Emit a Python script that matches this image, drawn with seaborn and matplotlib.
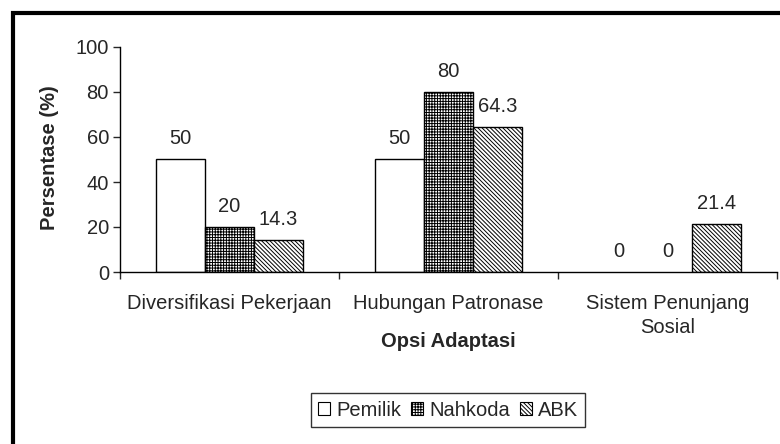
import numpy as np
import pandas as pd
import matplotlib.pyplot as plt
import matplotlib.patches as mpatches
import seaborn as sns

# ── Data ─────────────────────────────────────────────────────────────────────
OPSI = ['Diversifikasi Pekerjaan', 'Hubungan Patronase', 'Sistem Penunjang\nSosial']
KELOMPOK = ['Pemilik', 'Nahkoda', 'ABK']
PEMILIK = [50, 50, 0]
NAHKODA = [20, 80, 0]
ABK = [14.3, 64.3, 21.4]
LABELS = {
    'Pemilik': ['50', '50', '0'],
    'Nahkoda': ['20', '80', '0'],
    'ABK': ['14.3', '64.3', '21.4'],
}
HATCHES = {'Pemilik': '', 'Nahkoda': '+' * 6, 'ABK': '\\' * 8}

df = pd.DataFrame({
    'Opsi': OPSI * 3,
    'Kelompok': [k for k in KELOMPOK for _ in OPSI],
    'Persen': PEMILIK + NAHKODA + ABK,
})

sns.set_style('white')
plt.rcParams['font.family'] = ['Liberation Sans', 'DejaVu Sans']
plt.rcParams['hatch.linewidth'] = 0.7
plt.rcParams['hatch.color'] = 'black'
FS = 14.5

fig = plt.figure(figsize=(7.8, 4.44), dpi=100)
ax = fig.add_axes([120 / 780, 1 - 272 / 444, 657 / 780, 225 / 444])

sns.barplot(data=df, x='Opsi', y='Persen', hue='Kelompok', order=OPSI,
            hue_order=KELOMPOK, palette={k: 'white' for k in KELOMPOK},
            edgecolor='black', linewidth=1, width=0.67, saturation=1,
            legend=False, ax=ax)

for cont, k in zip(ax.containers, KELOMPOK):
    for bar in cont:
        bar.set_hatch(HATCHES[k])
        bar.set_edgecolor('black')
        if bar.get_height() == 0:
            bar.set_linewidth(0)
    ax.bar_label(cont, labels=LABELS[k], padding=8, fontsize=FS)

ax.set_xlim(-0.5, 2.5)
ax.set_ylim(0, 100)
ax.set_yticks(range(0, 101, 20))
ax.tick_params(axis='y', left=True, length=5, width=1, labelsize=FS, pad=3)
ax.set_xticks([-0.5, 0.5, 1.5, 2.5], minor=True)
ax.tick_params(axis='x', which='major', length=0, labelsize=FS, pad=16)
ax.tick_params(axis='x', which='minor', bottom=True, length=5, width=1)
for lbl in ax.get_xticklabels():
    lbl.set_linespacing(1.3)
for s in ['top', 'right']:
    ax.spines[s].set_visible(False)
for s in ['left', 'bottom']:
    ax.spines[s].set_color('black')
    ax.spines[s].set_linewidth(1)

ax.set_ylabel('Persentase (%)', fontsize=FS, fontweight='bold')
ax.set_xlabel('Opsi Adaptasi', fontsize=FS, fontweight='bold')
ax.xaxis.set_label_coords(0.5, -(341 - 272) / 225, transform=ax.transAxes)
ax.xaxis.label.set_va('center')
ax.yaxis.set_label_coords(50 / 780, 1 - 158 / 444, transform=fig.transFigure)
ax.yaxis.label.set_va('center')

handles = [mpatches.Patch(facecolor='white', edgecolor='black', linewidth=0.8,
                          hatch=HATCHES[k], label=k) for k in KELOMPOK]
leg = fig.legend(handles=handles, loc='center', bbox_to_anchor=(448 / 780, 1 - 410 / 444),
                 ncol=3, fontsize=FS, frameon=True, fancybox=False,
                 handlelength=0.6, handleheight=0.6, handletextpad=0.3,
                 columnspacing=0.5, borderpad=0.35, borderaxespad=0)
leg.get_frame().set_edgecolor('black')
leg.get_frame().set_linewidth(1)

# outer frame (only top and left edges visible in the original)
fig.patches.append(mpatches.Rectangle((13 / 780, -0.1), 1.2, 1 - 13 / 444 + 0.1,
                                      transform=fig.transFigure, fill=False,
                                      edgecolor='black', linewidth=3))

fig.savefig('out.png', dpi=100)
